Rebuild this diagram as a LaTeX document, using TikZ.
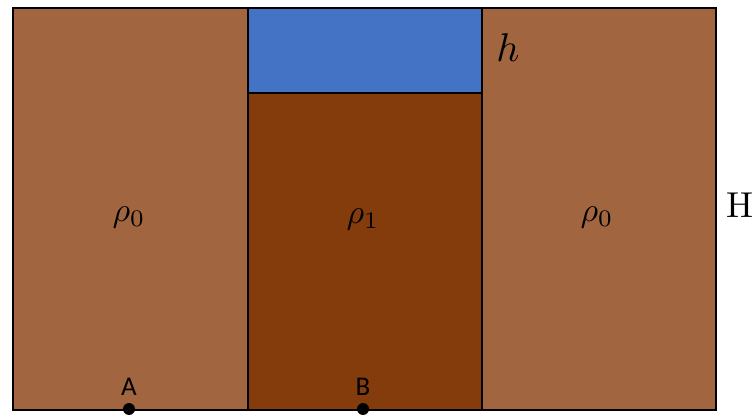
\documentclass[tikz,border=0pt]{standalone}
\usepackage{fontspec}
\setsansfont{Carlito}
\usetikzlibrary{positioning}

\definecolor{soilbrown}{RGB}{161,102,64}
\definecolor{darkbrown}{RGB}{132,60,12}
\definecolor{waterblue}{RGB}{68,114,196}

\begin{document}
\begin{tikzpicture}[x=1pt, y=-1pt]
    % Define styles
    \tikzstyle{block} = [rectangle, draw=black, line width=2pt, inner sep=0pt, anchor=north west]
    \tikzstyle{density} = [font=\normalsize, inner sep=0pt, scale=3.4]
    \tikzstyle{point} = [circle, fill=black, inner sep=0pt, minimum size=12pt]
    \tikzstyle{pointlabel} = [font=\sffamily\fontsize{27}{31}\selectfont, inner sep=0pt]

    \useasboundingbox (0,0) rectangle (753,417);

    % Columns
    \node[block, fill=soilbrown, minimum width=235pt, minimum height=402pt] (left) at (12,7) {};
    \node[block, fill=waterblue, minimum width=234pt, minimum height=85pt] (water) at (247,7) {};
    \node[block, fill=darkbrown, minimum width=234pt, minimum height=317pt] (middle) at (247,92) {};
    \node[block, fill=soilbrown, minimum width=234pt, minimum height=402pt] (right) at (481,7) {};

    % Labels
    \node[density] (rholeft) at (129,217) {$\rho_0$};
    \node[density] (rhomid) at (363,219) {$\rho_1$};
    \node[density] (rhoright) at (597,217) {$\rho_0$};
    \node[density, scale=1.18] (hlabel) at (508,48) {$h$};
    \node[font=\normalsize, inner sep=0pt, scale=3.6] (Hlabel) at (740,205) {H};

    % Points
    \node[point] (A) at (129,409) {};
    \node[point] (B) at (363,409) {};
    \node[pointlabel] (Alabel) at (129,387) {A};
    \node[pointlabel] (Blabel) at (363,387) {B};

\end{tikzpicture}
\end{document}
